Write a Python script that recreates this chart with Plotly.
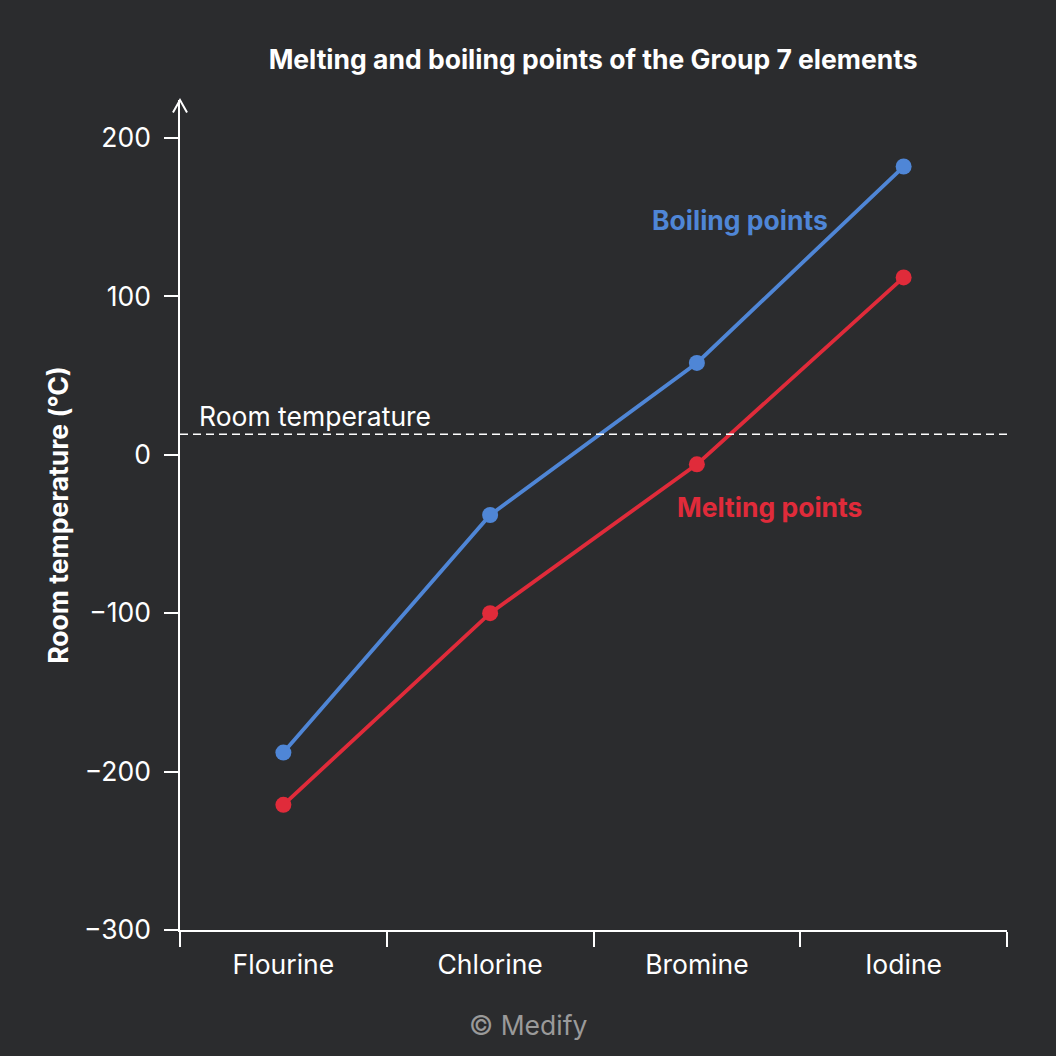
import plotly.graph_objects as go

elements = ['Flourine', 'Chlorine', 'Bromine', 'Iodine']
boiling = [-188, -38, 58, 182]
melting = [-221, -100, -6, 112]
room_temp = 13

bg = '#2b2c2e'
blue = '#4f86d6'
red = '#e02b3a'
font = 'Inter, Liberation Sans, sans-serif'
fs = 26.5

fig = go.Figure()
fig.add_trace(go.Scatter(x=elements, y=boiling, mode='lines+markers', name='Boiling points',
                         line=dict(color=blue, width=3.8), marker=dict(size=16, color=blue)))
fig.add_trace(go.Scatter(x=elements, y=melting, mode='lines+markers', name='Melting points',
                         line=dict(color=red, width=3.8), marker=dict(size=16, color=red)))

# room temperature line
fig.add_shape(type='line', xref='paper', x0=0, x1=1, yref='y', y0=room_temp, y1=room_temp,
              line=dict(color='white', width=1.5, dash='8px,5px'))
# arrow head on the y axis
fig.add_shape(type='path', xref='paper', yref='paper',
              path='M -0.0085 0.985 L 0 1 L 0.0085 0.985', line=dict(color='white', width=2))

fig.add_annotation(x=-0.42, y=room_temp, text='Room temperature', showarrow=False,
                   xanchor='left', yanchor='bottom', yshift=0, font=dict(color='white', size=fs, family=font))
fig.add_annotation(x=2.21, y=148, text='<b>Boiling points</b>', showarrow=False,
                   font=dict(color=blue, size=fs, family=font))
fig.add_annotation(x=2.35, y=-33, text='<b>Melting points</b>', showarrow=False,
                   font=dict(color=red, size=fs, family=font))
fig.add_annotation(xref='paper', yref='paper', x=0.421, y=-0.1145, yanchor='middle',
                   text='© Medify', showarrow=False,
                   font=dict(color='#9a9a9a', size=fs, family=font))

fig.update_layout(
    width=1056, height=1056,
    paper_bgcolor=bg, plot_bgcolor=bg,
    showlegend=False,
    margin=dict(l=180, r=49, t=100, b=126),
    font=dict(family=font, color='white', size=fs),
    title=dict(text='<b>Melting and boiling points of the Group 7 elements</b>',
               x=0.5617, xanchor='center', y=0.943, yanchor='middle',
               font=dict(size=fs, color='white', family=font)),
)
fig.update_xaxes(type='category', range=[-0.5, 3.5], tickson='boundaries', ticks='outside',
                 ticklen=15, tickwidth=1.5, tickcolor='white', showline=True, linecolor='white',
                 linewidth=1.5, showgrid=False, zeroline=False, ticklabelstandoff=10,
                 tickfont=dict(size=fs, color='white'))
fig.update_yaxes(range=[-300, 224], tickvals=[-300, -200, -100, 0, 100, 200], ticks='outside',
                 ticklen=14, tickwidth=1.5, tickcolor='white', showline=True, linecolor='white',
                 linewidth=1.5, showgrid=False, zeroline=False, ticklabelstandoff=8,
                 tickfont=dict(size=fs, color='white'),
                 title=dict(text='<b>Room temperature (°C)</b>', standoff=8,
                            font=dict(size=fs, color='white')))

fig.write_html('out.html', config={'displayModeBar': False},
               post_script="document.body.style.margin='0';")
